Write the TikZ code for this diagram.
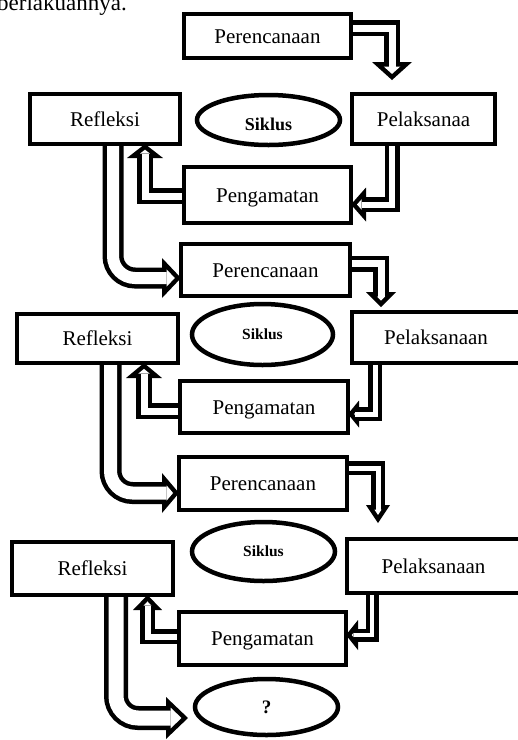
\documentclass[tikz,border=0pt]{standalone}
\usepackage{fontspec}
\setmainfont{Liberation Serif}
\usetikzlibrary{shapes.geometric, arrows.meta, calc, backgrounds}

% hollow block arrow: [path options]{band width}{head length}{head half width}{path}
\newcommand{\hollowarrow}[5][]{%
  \pgfmathsetmacro\hoWidth{2*#4}%
  \pgfmathsetmacro\hiDepth{4.5*sqrt(#4*#4+#3*#3)/#4}%
  \pgfmathsetmacro\hiLen{#3-4.5-\hiDepth}%
  \pgfmathsetmacro\hiWidth{2*\hiLen*#4/#3}%
  \pgfmathsetmacro\hiBand{#2-9}%
  \draw[line width=#2pt, -{Triangle[length=#3pt, width=\hoWidth pt, line width=0pt]}, #1] #5;
  \draw[white, line width=\hiBand pt, shorten >=\hiDepth pt,
    -{Triangle[length=\hiLen pt, width=\hiWidth pt, line width=0pt]}, #1] #5;
}

\begin{document}
\begin{tikzpicture}[x=1pt, y=-1pt,
    stage/.style={draw, line width=4.5pt, fill=white, inner sep=0pt, outer sep=0pt,
      font=\fontsize{21}{25}\selectfont, text height=14pt, text depth=0pt},
    siklus/.style={ellipse, draw, line width=4.5pt, fill=white, inner sep=0pt, outer sep=0pt,
      font=\bfseries\fontsize{15.5}{18}\selectfont, text height=10.5pt, text depth=0pt},
    dims/.style 2 args={minimum width=#1pt, minimum height=#2pt}]
    \useasboundingbox (0,0) rectangle (518,740);

    % Line of the page above the figure
    \node[anchor=base west, inner sep=0pt, font=\fontsize{23}{27}\selectfont] (Line) at (-3,10) {berlakuannya.};

    % First cycle
    \node[stage, dims={167}{44}] (Per1) at (267.5,36) {Perencanaan};
    \node[stage, dims={150}{50}] (Ref1) at (105,119) {Refleksi};
    \node[siklus, dims={143}{50}, font=\bfseries\fontsize{18}{21}\selectfont, text height=20pt] (Sik1) at (268.5,120) {Siklus};
    \node[stage, dims={143}{50}] (Pel1) at (423.5,119) {Pelaksanaa};
    \node[stage, dims={167}{56}] (Pen1) at (267.5,195) {Pengamatan};

    % Second cycle
    \node[stage, dims={169}{52}] (Per2) at (265.5,270) {Perencanaan};
    \node[stage, dims={161}{49}] (Ref2) at (97.5,338.5) {Refleksi};
    \node[siklus, dims={141}{61}] (Sik2) at (262.5,334.5) {Siklus};
    \node[stage, dims={168}{51}] (Pel2) at (436,337.5) {Pelaksanaan};
    \node[stage, dims={168}{52}] (Pen2) at (264,407) {Pengamatan};

    % Third cycle
    \node[stage, dims={168}{53}] (Per3) at (263,483.5) {Perencanaan};
    \node[stage, dims={161}{53}] (Ref3) at (92.5,568.5) {Refleksi};
    \node[siklus, dims={143}{59}] (Sik3) at (263.5,551.5) {Siklus};
    \node[stage, dims={173}{54}] (Pel3) at (433.5,566) {Pelaksanaan};
    \node[stage, dims={167}{53}] (Pen3) at (262.5,638.5) {Pengamatan};
    \node[siklus, dims={143}{56}, font=\bfseries\fontsize{19}{22}\selectfont, text height=13pt] (Next) at (266.5,707) {?};

    % Block arrows behind the boxes
    \begin{scope}[on background layer]
        \hollowarrow{16}{18}{20}{($(Per1.east)+(0,-8)$) -| ($(Pel1.north west)+(40,-14)$)}
        \hollowarrow{15}{15}{17}{($(Pel1.south west)+(40,0)$) |- ($(Pen1.east)+(0,9.5)$)}
        \hollowarrow{16}{14}{18}{($(Pen1.west)+(0,1)$) -| ($(Ref1.south west)+(115,0)$)}
        \hollowarrow[rounded corners=22pt]{21}{19}{20}{($(Ref1.south west)+(83,0)$) |- ($(Per2.west)+(0,8)$)}

        \hollowarrow{16}{15}{15}{($(Per2.east)+(0,-6.5)$) -| ($(Pel2.north west)+(29,-5)$)}
        \hollowarrow{14}{11}{13.5}{($(Pel2.south west)+(23,0)$) |- ($(Pen2.east)+(0,7)$)}
        \hollowarrow{16}{15}{18}{($(Pen2.west)+(0,4)$) -| ($(Ref2.south west)+(127,0)$)}
        \hollowarrow[rounded corners=22pt]{22}{17}{20}{($(Ref2.south west)+(93.5,0)$) |- ($(Per3.west)+(0,9.5)$)}

        \hollowarrow{14}{18}{12}{($(Per3.east)+(0,-15.5)$) -| ($(Pel3.north west)+(31,-16)$)}
        \hollowarrow{13}{12}{15}{($(Pel3.south west)+(25,0)$) |- ($(Pen3.east)+(0,-3.5)$)}
        \hollowarrow{15}{15}{14.5}{($(Pen3.west)+(0,-2)$) -| ($(Ref3.south west)+(135.5,0)$)}
        \hollowarrow[rounded corners=22pt]{24}{22}{21}{($(Ref3.south west)+(104,0)$) |- ($(Next.west)+(-7,11)$)}
    \end{scope}

\end{tikzpicture}
\end{document}
